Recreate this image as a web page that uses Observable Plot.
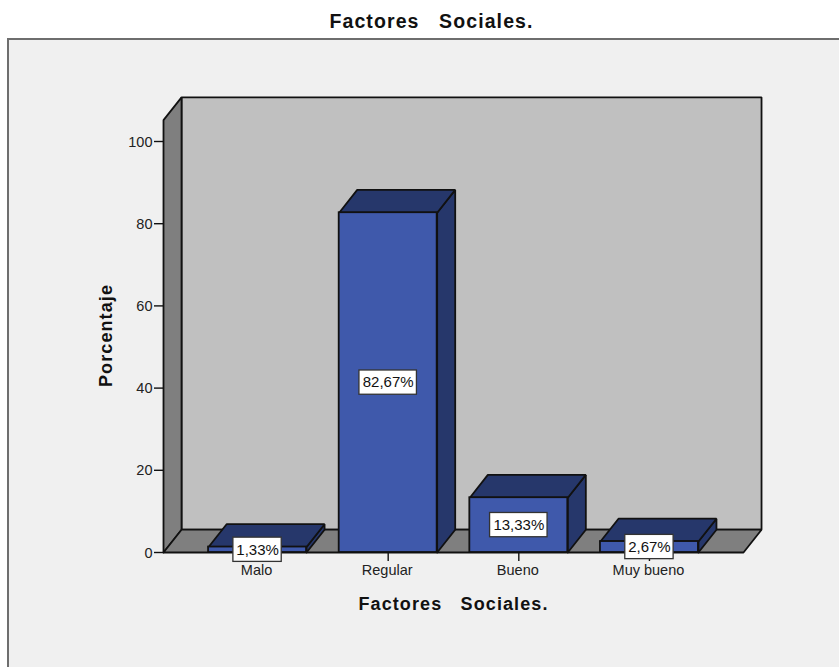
<!DOCTYPE html>
<html lang="es">
<head>
<meta charset="utf-8">
<title>Factores Sociales</title>
<script src="https://cdn.jsdelivr.net/npm/d3@7"></script>
<script src="https://cdn.jsdelivr.net/npm/@observablehq/plot@0.6"></script>
<style>
  html, body { margin: 0; padding: 0; background: #fff; overflow: hidden; }
  #page { position: relative; width: 839px; height: 667px; overflow: hidden; font-family: "Liberation Sans", Arial, sans-serif; }
  #titulo { position: absolute; left: 0; top: 9px; width: 863px; text-align: center; font-size: 19.5px; font-weight: bold; letter-spacing: 1.1px; line-height: 24px; white-space: pre; color: #111; }
  #marco { position: absolute; left: 7px; top: 38px; width: 900px; height: 700px; box-sizing: border-box; border: 2px solid #6e6e6e; background: #f0f0f0; }
  #grafico { position: absolute; left: 0; top: 0; }
  #grafico svg { background: transparent; display: block; }
  #grafico text { white-space: pre; }
  .titulo-eje { letter-spacing: 1.1px; }
</style>
</head>
<body>
<div id="page">
  <div id="titulo">Factores   Sociales.</div>
  <div id="marco"></div>
  <div id="grafico"></div>
</div>
<script>
const chartTitle = "Factores   Sociales.";
const categories = ["Malo", "Regular", "Bueno", "Muy bueno"];
const percentages = [1.33, 82.67, 13.33, 2.67];
const yTicks = [0, 20, 40, 60, 80, 100];

// Extent of the box, in scale units: category index across, percent upward.
const floorLeft = -0.72, floorRight = 3.72, wallTop = 105.2;
const depthX = 0.138, depthY = 5.55;   // shift from the front plane to the back plane
const barHalf = 0.375;

const wallColor = "#c0c0c0", shadeColor = "#7f7f7f";
const frontColor = "#3f59ab", darkColor = "#26376b";
const edge = "#111";

const fmt = v => v.toFixed(2).replace(".", ",") + "%";
const rows = categories.map((name, i) => ({name, i, value: percentages[i], label: fmt(percentages[i])}));

// Closed outlines are drawn as filled lines, one z group per shape.
const outline = (id, pts) => [...pts, pts[0]].map(([x, y]) => ({id, x, y}));
const polygon = (data, fill) => Plot.line(data, {x: "x", y: "y", z: "id", fill, stroke: edge, strokeWidth: 1.8, strokeLinejoin: "miter"});

const backWall = outline("back", [
  [floorLeft + depthX, depthY], [floorRight + depthX, depthY],
  [floorRight + depthX, wallTop + depthY], [floorLeft + depthX, wallTop + depthY]
]);
const sideWall = outline("side", [
  [floorLeft, 0], [floorLeft + depthX, depthY],
  [floorLeft + depthX, wallTop + depthY], [floorLeft, wallTop]
]);
const floor = outline("floor", [
  [floorLeft, 0], [floorLeft + depthX, depthY],
  [floorRight + depthX, depthY], [floorRight, 0]
]);
const barTops = rows.flatMap(d => outline("top" + d.i, [
  [d.i - barHalf, d.value], [d.i + barHalf, d.value],
  [d.i + barHalf + depthX, d.value + depthY], [d.i - barHalf + depthX, d.value + depthY]
]));
const barSides = rows.flatMap(d => outline("side" + d.i, [
  [d.i + barHalf, 0], [d.i + barHalf + depthX, depthY],
  [d.i + barHalf + depthX, d.value + depthY], [d.i + barHalf, d.value]
]));

const boxHalfWidth = d => d.label.length > 5 ? 0.22 : 0.185;
const boxHalfHeight = 2.95;
const categoryTicks = categories.map((_, i) => i);

const chart = Plot.plot({
  width: 839,
  height: 667,
  marginLeft: 163,
  marginRight: 96,
  marginTop: 141,
  marginBottom: 115,
  style: {background: "transparent", fontFamily: "'Liberation Sans', Arial, sans-serif", overflow: "visible"},
  x: {domain: [floorLeft, floorRight], axis: null},
  y: {domain: [0, 100], axis: null},
  marks: [
    polygon(backWall, wallColor),
    polygon(sideWall, shadeColor),
    polygon(floor, shadeColor),
    Plot.axisY({ticks: yTicks, tickFormat: () => "", tickSize: 9, label: null, stroke: edge, strokeWidth: 1.4}),
    Plot.axisY({ticks: yTicks, tickSize: 0, tickPadding: 11, dy: 0.5, fontSize: 14.5, label: null, fill: "#222"}),
    Plot.axisX({ticks: categoryTicks, tickFormat: () => "", tickSize: 9, label: null, stroke: edge, strokeWidth: 1.4}),
    Plot.axisX({ticks: categoryTicks, tickFormat: i => categories[i], tickSize: 0, tickPadding: 12.5, dx: -1, fontSize: 14.5, label: null, fill: "#222"}),
    polygon(barSides, darkColor),
    polygon(barTops, darkColor),
    Plot.rect(rows, {x1: d => d.i - barHalf, x2: d => d.i + barHalf, y1: 0, y2: "value", fill: frontColor, stroke: edge, strokeWidth: 1.8}),
    Plot.rect(rows, {
      x1: d => d.i - boxHalfWidth(d), x2: d => d.i + boxHalfWidth(d),
      y1: d => d.value / 2 - boxHalfHeight, y2: d => d.value / 2 + boxHalfHeight,
      fill: "#fff", stroke: "#333", strokeWidth: 1.3
    }),
    Plot.text(rows, {x: "i", y: d => d.value / 2, text: "label", fontSize: 15, fill: "#111"}),
    Plot.text([chartTitle], {x: 1.5, y: -12.7, text: d => d, fontSize: 18, fontWeight: "bold", fill: "#111", className: "titulo-eje"}),
    Plot.text(["Porcentaje"], {x: -1.155, y: 52.8, text: d => d, rotate: -90, fontSize: 18, fontWeight: "bold", fill: "#111", className: "titulo-eje"})
  ]
});
document.getElementById("grafico").append(chart);
</script>
</body>
</html>
